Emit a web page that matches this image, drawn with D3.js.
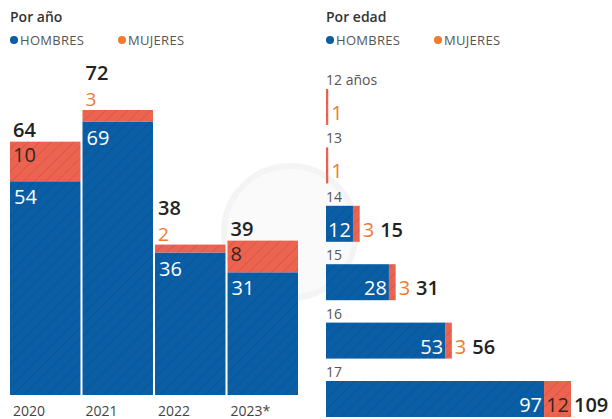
<!DOCTYPE html>
<html>
<head>
<meta charset="utf-8">
<script src="https://cdn.jsdelivr.net/npm/d3@7"></script>
<style>
  body { margin: 0; background: #fff; }
  svg { display: block; font-family: "Open Sans", sans-serif; }
</style>
</head>
<body>
<script>
// datos por año
const years = ['2020', '2021', '2022', '2023*'];
const yearMen = [54, 69, 36, 31];
const yearWomen = [10, 3, 2, 8];

// datos por edad
const ages = ['12 años', '13', '14', '15', '16', '17'];
const ageMen = [0, 0, 12, 28, 53, 97];
const ageWomen = [1, 1, 3, 3, 3, 12];

const blue = '#0a5ea6', red = '#ec6450', orange = '#f07a2e', dark = '#222';

const svg = d3.select('body').append('svg')
    .attr('width', 612).attr('height', 419);

// patrones rayados
const defs = svg.append('defs');
[['hb', blue], ['hr', red]].forEach(([id, c]) => {
    const p = defs.append('pattern').attr('id', id)
        .attr('patternUnits', 'userSpaceOnUse')
        .attr('width', 8).attr('height', 8)
        .attr('patternTransform', 'rotate(45)');
    p.append('rect').attr('width', 8).attr('height', 8).attr('fill', c);
    p.append('line').attr('x1', 0).attr('y1', 0).attr('x2', 0).attr('y2', 8)
        .attr('stroke', '#000').attr('stroke-opacity', 0.16).attr('stroke-width', 1.2);
});

// marca de agua tenue
svg.append('circle').attr('cx', 290).attr('cy', 232).attr('r', 66)
    .attr('fill', '#fafafa').attr('stroke', '#f4f4f4').attr('stroke-width', 6);

// titulos y leyendas
function header(x, title) {
    svg.append('text').attr('x', x).attr('y', 22).text(title)
        .attr('font-size', 14).attr('font-weight', 600).attr('fill', '#333');
    [['HOMBRES', blue, 0], ['MUJERES', orange, 108]].forEach(([t, c, dx]) => {
        svg.append('circle').attr('cx', x + 4 + dx).attr('cy', 40).attr('r', 4).attr('fill', c);
        svg.append('text').attr('x', x + 10 + dx).attr('y', 45).text(t)
            .attr('font-size', 13).attr('fill', '#555').attr('letter-spacing', 0.3);
    });
}
header(10, 'Por año');
header(326, 'Por edad');

// ---- grafico por año ----
const x = d3.scaleBand().domain(years).range([10, 298]).paddingInner(0.028);
const y = d3.scaleLinear().domain([0, 72]).range([395, 110]);

const left = svg.append('g');
years.forEach((yr, i) => {
    const m = yearMen[i], f = yearWomen[i], t = m + f;
    const bx = x(yr), bw = x.bandwidth();
    left.append('rect').attr('x', bx).attr('y', y(m)).attr('width', bw)
        .attr('height', y(0) - y(m)).attr('fill', 'url(#hb)');
    left.append('rect').attr('x', bx).attr('y', y(t)).attr('width', bw)
        .attr('height', y(m) - y(t)).attr('fill', 'url(#hr)');

    left.append('text').attr('x', bx + 4).attr('y', y(m) + 23).text(m)
        .attr('font-size', 20).attr('fill', '#fff');

    let totalY;
    if (f >= 5) {
        left.append('text').attr('x', bx + 3).attr('y', y(t) + 20).text(f)
            .attr('font-size', 20).attr('fill', '#3a2420');
        totalY = y(t) - 5;
    } else {
        left.append('text').attr('x', bx + 3).attr('y', y(t) - 4).text(f)
            .attr('font-size', 19).attr('fill', orange);
        totalY = y(t) - 30;
    }
    left.append('text').attr('x', bx + 3).attr('y', totalY).text(t)
        .attr('font-size', 20).attr('font-weight', 600).attr('fill', dark);

    left.append('text').attr('x', bx + 3).attr('y', 416).text(yr)
        .attr('font-size', 14).attr('fill', '#444');
});

// ---- grafico por edad ----
const xr = d3.scaleLinear().domain([0, 109]).range([326, 571]);
const yr = d3.scaleBand().domain(ages).range([89, 89 + 6 * 58.4]);
const bh = 36;

const right = svg.append('g');
ages.forEach((a, i) => {
    const m = ageMen[i], f = ageWomen[i], t = m + f;
    const by = yr(a);
    right.append('text').attr('x', 326).attr('y', by - 4).text(a)
        .attr('font-size', 14).attr('fill', '#555');
    right.append('rect').attr('x', xr(0)).attr('y', by).attr('width', xr(m) - xr(0))
        .attr('height', bh).attr('fill', 'url(#hb)');
    right.append('rect').attr('x', xr(m)).attr('y', by).attr('width', Math.max(2, xr(t) - xr(m)))
        .attr('height', bh).attr('fill', 'url(#hr)');

    const base = by + bh - 5;
    if (m > 0) {
        right.append('text').attr('x', xr(m) - 2).attr('y', base).text(m)
            .attr('text-anchor', 'end').attr('font-size', 20).attr('fill', '#fff');
    }
    let cx = Math.max(xr(t), xr(0) + 2) + 3;
    if (f >= 5) {
        right.append('text').attr('x', xr(t) - 2).attr('y', base).text(f)
            .attr('text-anchor', 'end').attr('font-size', 20).attr('fill', '#3a2420');
    } else {
        const ft = right.append('text').attr('x', cx).attr('y', base).text(f)
            .attr('font-size', 20).attr('fill', orange);
        cx += ft.node().getComputedTextLength() + 6;
    }
    if (m > 0) {
        right.append('text').attr('x', cx).attr('y', base).text(t)
            .attr('font-size', 20).attr('font-weight', 600).attr('fill', dark);
    }
});
</script>
</body>
</html>
